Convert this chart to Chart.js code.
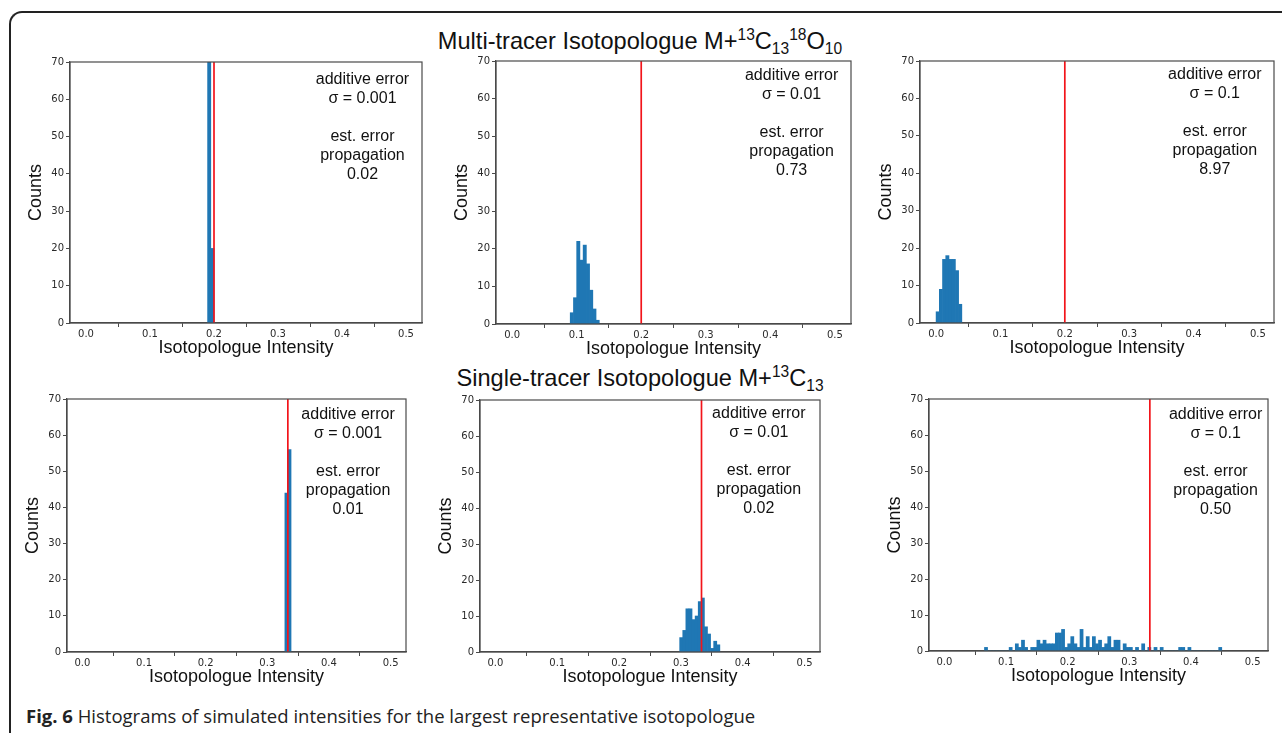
<!DOCTYPE html>
<html>
<head>
<meta charset="utf-8">
<script src="https://cdn.jsdelivr.net/npm/chart.js@4.4.0/dist/chart.umd.min.js"></script>
<style>
  html, body { margin: 0; padding: 0; background: #fff; }
  body { width: 1282px; height: 733px; position: relative; overflow: hidden; font-family: "Liberation Sans", Arial, sans-serif; }
  .frame { position: absolute; left: 9px; top: 11px; width: 1320px; height: 780px; border-left: 2px solid #222; border-top: 2px solid #222; border-top-left-radius: 13px; }
  .panel { position: absolute; }
  .rowTitle { position: absolute; left: 0; width: 1280px; text-align: center; font-size: 23.6px; line-height: 23px; color: #111; white-space: nowrap; }
  .rowTitle sup { font-size: 0.66em; vertical-align: 0.55em; line-height: 0; }
  .rowTitle sub { font-size: 0.66em; vertical-align: -0.3em; line-height: 0; }
  .caption { position: absolute; left: 26px; top: 706px; font-family: "Open Sans", sans-serif; font-size: 18.5px; line-height: 19px; color: #222; white-space: nowrap; }
</style>
</head>
<body>
<div class="frame"></div>
<div class="rowTitle" style="top:30px">Multi-tracer Isotopologue M+<sup>13</sup>C<sub>13</sub><sup>18</sup>O<sub>10</sub></div>
<div class="rowTitle" style="top:367px">Single-tracer Isotopologue M+<sup>13</sup>C<sub>13</sub></div>
<div class="caption"><b>Fig. 6</b> Histograms of simulated intensities for the largest representative isotopologue</div>
<script>
// histogram bins, width 0.005, counts
const binWidth = 0.005;

const multiLowStart = 0.19;
const multiLowCounts = [80, 20];

const multiMidStart = 0.09;
const multiMidCounts = [3, 7, 22, 17, 21, 16, 9, 4, 1];

const multiHighStart = 0.0;
const multiHighCounts = [3, 9, 17, 18, 17, 17, 14, 5];

const singleLowStart = 0.3285;
const singleLowCounts = [44, 56];

const singleMidStart = 0.298;
const singleMidCounts = [4, 6, 12, 12, 9, 10, 14, 15, 7, 5, 1, 3, 2];

const singleHighStart = 0.065;
const singleHighCounts = [
  1, 0, 0, 0, 0, 0, 0, 0, 1, 0,
  2, 1, 3, 1, 0, 1, 1, 3, 2, 3,
  2, 2, 2, 5, 5, 6, 1, 2, 4, 2,
  1, 6, 1, 4, 1, 4, 2, 3, 1, 2,
  4, 1, 3, 3, 0, 2, 1, 1, 0, 1,
  0, 2, 0, 1, 0, 1, 0, 1, 0, 0,
  0, 0, 0, 1, 1, 0, 1, 0, 0, 0,
  0, 0, 0, 0, 0, 0, 1
];

// true value (red line) for each panel
const trueValues = [0.2, 0.2, 0.2, 0.3333, 0.3333, 0.3333];
const sigmaLabels = ['0.001', '0.01', '0.1', '0.001', '0.01', '0.1'];
const propagationLabels = ['0.02', '0.73', '8.97', '0.01', '0.02', '0.50'];

const xTicks = [0, 0.1, 0.2, 0.3, 0.4, 0.5];
const yTicks = [0, 10, 20, 30, 40, 50, 60, 70];

// where the annotation block sits (data units)
const noteX = [0.432, 0.433, 0.433, 0.431, 0.426, 0.44];
const noteY = [65.2, 66.0, 66.5, 65.6, 66.3, 65.6];

const panels = [
  { start: multiLowStart, counts: multiLowCounts },
  { start: multiMidStart, counts: multiMidCounts },
  { start: multiHighStart, counts: multiHighCounts },
  { start: singleLowStart, counts: singleLowCounts },
  { start: singleMidStart, counts: singleMidCounts },
  { start: singleHighStart, counts: singleHighCounts },
];

// plot boxes on the page
const boxes = [
  { l: 70, t: 62, r: 422, b: 323 },
  { l: 496, t: 61, r: 851, b: 324 },
  { l: 920, t: 61, r: 1274, b: 323 },
  { l: 67, t: 399, r: 406, b: 652 },
  { l: 480, t: 400, r: 820, b: 652 },
  { l: 929, t: 399, r: 1268, b: 651 },
];

const Y_W = 45, X_H = 36, PAD_TOP = 8, PAD_RIGHT = 12;
const AXIS_COLOR = '#4a4a4a';

const framePlugin = {
    id: 'frame',
    afterDatasetsDraw(chart) {
        const { ctx, chartArea: a } = chart;
        ctx.save();
        ctx.strokeStyle = AXIS_COLOR;
        ctx.lineWidth = 1.2;
        ctx.strokeRect(a.left, a.top, a.right - a.left, a.bottom - a.top);
        ctx.restore();
    }
};

const notesPlugin = {
    id: 'notes',
    afterDraw(chart, args, opts) {
        const ctx = chart.ctx;
        const cx = chart.scales.x.getPixelForValue(opts.x);
        const cy = chart.scales.y.getPixelForValue(opts.y);
        ctx.save();
        ctx.font = '16px "Liberation Sans", Arial, sans-serif';
        ctx.fillStyle = '#111';
        ctx.textAlign = 'center';
        ctx.textBaseline = 'middle';
        opts.lines.forEach((line, i) => ctx.fillText(line, cx, cy + i * 19));
        ctx.restore();
    }
};

function axisStyle() {
    return {
        grid: { drawOnChartArea: false, drawTicks: true, tickLength: 4, color: AXIS_COLOR, lineWidth: 1 },
        border: { display: true, color: AXIS_COLOR, width: 1.2 },
    };
}

panels.forEach((p, idx) => {
    const box = boxes[idx];
    const w = box.r - box.l + Y_W + PAD_RIGHT;
    const h = box.b - box.t + PAD_TOP + X_H;

    const holder = document.createElement('div');
    holder.className = 'panel';
    holder.style.left = (box.l - Y_W) + 'px';
    holder.style.top = (box.t - PAD_TOP) + 'px';
    const canvas = document.createElement('canvas');
    canvas.width = w;
    canvas.height = h;
    canvas.style.width = w + 'px';
    canvas.style.height = h + 'px';
    holder.appendChild(canvas);
    document.body.appendChild(holder);

    const bars = p.counts.map((c, i) => ({ x: p.start + (i + 0.5) * binWidth, y: c }));
    const truth = trueValues[idx];

    new Chart(canvas, {
        type: 'bar',
        data: {
            datasets: [
                {
                    type: 'line',
                    data: [{ x: truth, y: 0 }, { x: truth, y: 70 }],
                    borderColor: '#f2141a',
                    borderWidth: 1.7,
                    pointRadius: 0,
                    fill: false,
                    order: 0,
                },
                {
                    type: 'bar',
                    data: bars,
                    backgroundColor: '#1f77b4',
                    borderWidth: 0,
                    barPercentage: 1,
                    categoryPercentage: 1,
                    order: 1,
                },
            ],
        },
        options: {
            responsive: false,
            animation: false,
            layout: { padding: { top: PAD_TOP, right: PAD_RIGHT, left: 0, bottom: 0 } },
            scales: {
                x: {
                    type: 'linear',
                    min: -0.025,
                    max: 0.525,
                    offset: false,
                    afterBuildTicks: (s) => { s.ticks = xTicks.map(v => ({ value: v })); },
                    afterFit: (s) => { s.height = X_H; },
                    ticks: {
                        autoSkip: false,
                        maxRotation: 0,
                        padding: 1,
                        color: '#2a2a2a',
                        font: { family: 'DejaVu Sans', size: 10 },
                        callback: (v) => Number(v).toFixed(1),
                    },
                    title: {
                        display: true,
                        text: 'Isotopologue Intensity',
                        color: '#111',
                        padding: 0,
                        font: { family: 'Liberation Sans', size: 18 },
                    },
                    ...axisStyle(),
                },
                y: {
                    min: 0,
                    max: 70,
                    afterBuildTicks: (s) => { s.ticks = yTicks.map(v => ({ value: v })); },
                    afterFit: (s) => { s.width = Y_W; },
                    ticks: {
                        padding: 2,
                        color: '#2a2a2a',
                        font: { family: 'DejaVu Sans', size: 10 },
                    },
                    title: {
                        display: true,
                        text: 'Counts',
                        color: '#111',
                        padding: 0,
                        font: { family: 'Liberation Sans', size: 18 },
                    },
                    ...axisStyle(),
                },
            },
            plugins: {
                legend: { display: false },
                tooltip: { enabled: false },
                notes: {
                    x: noteX[idx],
                    y: noteY[idx],
                    lines: ['additive error', 'σ = ' + sigmaLabels[idx], '', 'est. error', 'propagation', propagationLabels[idx]],
                },
            },
        },
        plugins: [framePlugin, notesPlugin],
    });
});
</script>
</body>
</html>
